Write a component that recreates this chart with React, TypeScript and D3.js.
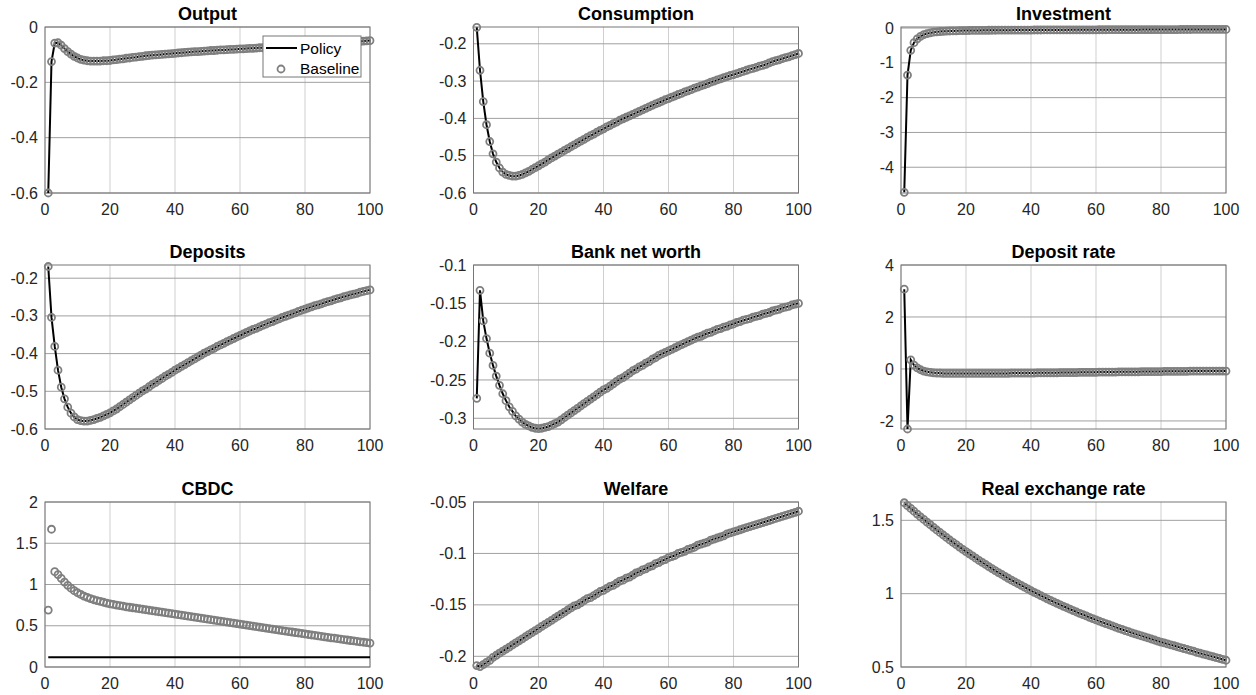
import React from 'react';
import * as d3 from 'd3';

const X_TICKS = [0, 20, 40, 60, 80, 100];

const OUTPUT = [
  -0.600, -0.125, -0.058, -0.057, -0.066, -0.078, -0.089, -0.098, -0.106, -0.112,
  -0.117, -0.120, -0.122, -0.123, -0.123, -0.123, -0.123, -0.122, -0.122, -0.121,
  -0.119, -0.118, -0.116, -0.115, -0.113, -0.112, -0.110, -0.109, -0.107, -0.106,
  -0.104, -0.103, -0.102, -0.101, -0.100, -0.099, -0.098, -0.097, -0.096, -0.095,
  -0.094, -0.093, -0.092, -0.091, -0.090, -0.089, -0.089, -0.088, -0.087, -0.086,
  -0.085, -0.085, -0.084, -0.083, -0.083, -0.082, -0.081, -0.081, -0.080, -0.079,
  -0.079, -0.078, -0.077, -0.077, -0.076, -0.075, -0.075, -0.074, -0.073, -0.073,
  -0.072, -0.071, -0.070, -0.070, -0.069, -0.068, -0.067, -0.066, -0.065, -0.064,
  -0.064, -0.063, -0.062, -0.061, -0.061, -0.060, -0.059, -0.058, -0.058, -0.057,
  -0.056, -0.055, -0.055, -0.054, -0.053, -0.052, -0.052, -0.051, -0.050, -0.049,
];

const CONSUMPTION = [
  -0.156, -0.271, -0.355, -0.417, -0.462, -0.495, -0.517, -0.533, -0.544, -0.550,
  -0.553, -0.555, -0.555, -0.553, -0.550, -0.546, -0.542, -0.537, -0.532, -0.527,
  -0.522, -0.517, -0.511, -0.506, -0.501, -0.496, -0.491, -0.486, -0.481, -0.476,
  -0.471, -0.466, -0.461, -0.456, -0.451, -0.446, -0.442, -0.437, -0.432, -0.428,
  -0.423, -0.419, -0.414, -0.410, -0.405, -0.401, -0.397, -0.393, -0.389, -0.385,
  -0.381, -0.377, -0.373, -0.369, -0.365, -0.361, -0.358, -0.354, -0.350, -0.347,
  -0.343, -0.340, -0.336, -0.333, -0.329, -0.326, -0.323, -0.319, -0.316, -0.313,
  -0.310, -0.307, -0.303, -0.300, -0.297, -0.294, -0.291, -0.288, -0.285, -0.283,
  -0.280, -0.277, -0.274, -0.271, -0.268, -0.266, -0.263, -0.260, -0.258, -0.255,
  -0.251, -0.248, -0.245, -0.243, -0.240, -0.237, -0.235, -0.232, -0.229, -0.226,
];

const INVESTMENT = [
  -4.72, -1.35, -0.64, -0.42, -0.31, -0.24, -0.19, -0.16, -0.14, -0.12,
  -0.110, -0.100, -0.095, -0.090, -0.085, -0.082, -0.079, -0.076, -0.074, -0.072,
  -0.070, -0.069, -0.068, -0.067, -0.066, -0.065, -0.064, -0.063, -0.063, -0.062,
  -0.061, -0.061, -0.060, -0.060, -0.059, -0.059, -0.058, -0.058, -0.057, -0.057,
  -0.056, -0.056, -0.056, -0.055, -0.055, -0.054, -0.054, -0.054, -0.053, -0.053,
  -0.053, -0.052, -0.052, -0.052, -0.051, -0.051, -0.051, -0.050, -0.050, -0.050,
  -0.049, -0.049, -0.049, -0.048, -0.048, -0.048, -0.047, -0.047, -0.047, -0.047,
  -0.046, -0.046, -0.046, -0.045, -0.045, -0.045, -0.045, -0.044, -0.044, -0.044,
  -0.044, -0.043, -0.043, -0.043, -0.043, -0.042, -0.042, -0.042, -0.042, -0.041,
  -0.041, -0.041, -0.041, -0.041, -0.040, -0.040, -0.040, -0.040, -0.040, -0.039,
];

const DEPOSITS = [
  -0.169, -0.304, -0.381, -0.444, -0.489, -0.520, -0.542, -0.558, -0.568, -0.575,
  -0.578, -0.579, -0.579, -0.577, -0.575, -0.572, -0.569, -0.565, -0.561, -0.557,
  -0.552, -0.547, -0.541, -0.535, -0.529, -0.523, -0.517, -0.511, -0.505, -0.499,
  -0.494, -0.488, -0.482, -0.477, -0.471, -0.466, -0.460, -0.455, -0.450, -0.444,
  -0.439, -0.434, -0.429, -0.424, -0.419, -0.414, -0.409, -0.404, -0.399, -0.395,
  -0.390, -0.386, -0.381, -0.377, -0.373, -0.368, -0.364, -0.360, -0.356, -0.352,
  -0.348, -0.344, -0.340, -0.336, -0.333, -0.329, -0.325, -0.322, -0.318, -0.315,
  -0.311, -0.308, -0.304, -0.301, -0.298, -0.295, -0.292, -0.288, -0.285, -0.282,
  -0.279, -0.276, -0.273, -0.271, -0.268, -0.265, -0.262, -0.260, -0.257, -0.254,
  -0.252, -0.249, -0.247, -0.244, -0.242, -0.240, -0.237, -0.235, -0.233, -0.231,
];

const BANK_NET_WORTH = [
  -0.274, -0.133, -0.173, -0.196, -0.215, -0.231, -0.245, -0.257, -0.268, -0.277,
  -0.285, -0.291, -0.297, -0.301, -0.305, -0.308, -0.310, -0.312, -0.313, -0.3135,
  -0.313, -0.312, -0.311, -0.309, -0.307, -0.305, -0.302, -0.299, -0.296, -0.293,
  -0.290, -0.287, -0.284, -0.281, -0.278, -0.275, -0.272, -0.269, -0.266, -0.263,
  -0.261, -0.258, -0.255, -0.252, -0.249, -0.247, -0.244, -0.241, -0.238, -0.236,
  -0.233, -0.231, -0.228, -0.226, -0.223, -0.221, -0.218, -0.216, -0.214, -0.212,
  -0.210, -0.208, -0.206, -0.204, -0.202, -0.200, -0.198, -0.196, -0.194, -0.193,
  -0.191, -0.189, -0.188, -0.186, -0.184, -0.183, -0.181, -0.180, -0.178, -0.177,
  -0.175, -0.174, -0.172, -0.171, -0.170, -0.168, -0.167, -0.166, -0.164, -0.163,
  -0.162, -0.160, -0.159, -0.158, -0.156, -0.155, -0.154, -0.152, -0.151, -0.150,
];

const DEPOSIT_RATE = [
  3.07, -2.31, 0.35, 0.15, 0.04, -0.03, -0.08, -0.11, -0.13, -0.15,
  -0.16, -0.16, -0.17, -0.17, -0.17, -0.17, -0.17, -0.17, -0.17, -0.17,
  -0.17, -0.17, -0.17, -0.17, -0.17, -0.17, -0.17, -0.17, -0.17, -0.17,
  -0.17, -0.17, -0.17, -0.16, -0.16, -0.16, -0.16, -0.16, -0.16, -0.16,
  -0.16, -0.15, -0.15, -0.15, -0.15, -0.15, -0.15, -0.15, -0.14, -0.14,
  -0.14, -0.14, -0.14, -0.14, -0.13, -0.13, -0.13, -0.13, -0.13, -0.13,
  -0.12, -0.12, -0.12, -0.12, -0.12, -0.12, -0.11, -0.11, -0.11, -0.11,
  -0.11, -0.11, -0.11, -0.10, -0.10, -0.10, -0.10, -0.10, -0.10, -0.10,
  -0.09, -0.09, -0.09, -0.09, -0.09, -0.09, -0.09, -0.09, -0.08, -0.08,
  -0.08, -0.08, -0.08, -0.08, -0.08, -0.08, -0.08, -0.08, -0.08, -0.08,
];

const CBDC_BASELINE = [
  0.69, 1.67, 1.155, 1.12, 1.075, 1.03, 0.99, 0.955, 0.925, 0.90,
  0.880, 0.860, 0.845, 0.830, 0.815, 0.805, 0.795, 0.785, 0.775, 0.765,
  0.758, 0.751, 0.744, 0.737, 0.730, 0.724, 0.718, 0.712, 0.706, 0.700,
  0.694, 0.688, 0.682, 0.676, 0.670, 0.664, 0.658, 0.652, 0.646, 0.640,
  0.634, 0.628, 0.622, 0.616, 0.610, 0.604, 0.598, 0.592, 0.586, 0.580,
  0.574, 0.568, 0.562, 0.556, 0.550, 0.544, 0.538, 0.532, 0.526, 0.520,
  0.514, 0.508, 0.502, 0.496, 0.490, 0.484, 0.478, 0.472, 0.466, 0.460,
  0.454, 0.448, 0.442, 0.436, 0.430, 0.424, 0.418, 0.412, 0.406, 0.400,
  0.394, 0.388, 0.383, 0.377, 0.371, 0.366, 0.360, 0.354, 0.349, 0.343,
  0.338, 0.332, 0.327, 0.321, 0.316, 0.311, 0.305, 0.300, 0.295, 0.290,
];

const CBDC_POLICY = [
  0.118, 0.118, 0.118, 0.118, 0.118, 0.118, 0.118, 0.118, 0.118, 0.118,
  0.118, 0.118, 0.118, 0.118, 0.118, 0.118, 0.118, 0.118, 0.118, 0.118,
  0.118, 0.118, 0.118, 0.118, 0.118, 0.118, 0.118, 0.118, 0.118, 0.118,
  0.118, 0.118, 0.118, 0.118, 0.118, 0.118, 0.118, 0.118, 0.118, 0.118,
  0.118, 0.118, 0.118, 0.118, 0.118, 0.118, 0.118, 0.118, 0.118, 0.118,
  0.118, 0.118, 0.118, 0.118, 0.118, 0.118, 0.118, 0.118, 0.118, 0.118,
  0.118, 0.118, 0.118, 0.118, 0.118, 0.118, 0.118, 0.118, 0.118, 0.118,
  0.118, 0.118, 0.118, 0.118, 0.118, 0.118, 0.118, 0.118, 0.118, 0.118,
  0.118, 0.118, 0.118, 0.118, 0.118, 0.118, 0.118, 0.118, 0.118, 0.118,
  0.118, 0.118, 0.118, 0.118, 0.118, 0.118, 0.118, 0.118, 0.118, 0.118,
];

const WELFARE = [
  -0.209, -0.210, -0.208, -0.206, -0.204, -0.201, -0.199, -0.197, -0.195, -0.193,
  -0.191, -0.189, -0.187, -0.185, -0.183, -0.181, -0.179, -0.177, -0.175, -0.173,
  -0.171, -0.169, -0.167, -0.165, -0.163, -0.161, -0.159, -0.157, -0.155, -0.153,
  -0.151, -0.150, -0.148, -0.146, -0.144, -0.143, -0.141, -0.139, -0.137, -0.136,
  -0.134, -0.132, -0.131, -0.129, -0.127, -0.126, -0.124, -0.123, -0.121, -0.119,
  -0.118, -0.116, -0.115, -0.113, -0.112, -0.110, -0.109, -0.107, -0.106, -0.104,
  -0.103, -0.102, -0.100, -0.099, -0.098, -0.096, -0.095, -0.094, -0.092, -0.091,
  -0.090, -0.089, -0.087, -0.086, -0.085, -0.084, -0.083, -0.081, -0.080, -0.079,
  -0.078, -0.077, -0.076, -0.075, -0.074, -0.073, -0.072, -0.071, -0.070, -0.069,
  -0.068, -0.067, -0.066, -0.065, -0.064, -0.063, -0.062, -0.061, -0.060, -0.059,
];

const REAL_EXCHANGE_RATE = [
  1.620, 1.600, 1.581, 1.562, 1.543, 1.524, 1.506, 1.488, 1.470, 1.452,
  1.434, 1.417, 1.400, 1.383, 1.366, 1.350, 1.334, 1.318, 1.302, 1.287,
  1.272, 1.257, 1.242, 1.227, 1.213, 1.199, 1.185, 1.171, 1.157, 1.144,
  1.131, 1.118, 1.105, 1.092, 1.080, 1.068, 1.056, 1.044, 1.032, 1.020,
  1.009, 0.998, 0.987, 0.976, 0.965, 0.954, 0.944, 0.934, 0.924, 0.914,
  0.904, 0.894, 0.885, 0.875, 0.866, 0.857, 0.848, 0.839, 0.830, 0.821,
  0.813, 0.804, 0.796, 0.788, 0.780, 0.772, 0.764, 0.756, 0.748, 0.741,
  0.733, 0.726, 0.719, 0.712, 0.705, 0.698, 0.691, 0.684, 0.677, 0.670,
  0.664, 0.657, 0.651, 0.645, 0.638, 0.632, 0.626, 0.620, 0.614, 0.608,
  0.600, 0.594, 0.588, 0.582, 0.576, 0.570, 0.564, 0.558, 0.552, 0.546,
];

const TITLES = [
  'Output', 'Consumption', 'Investment',
  'Deposits', 'Bank net worth', 'Deposit rate',
  'CBDC', 'Welfare', 'Real exchange rate',
];
const POLICY = [OUTPUT, CONSUMPTION, INVESTMENT, DEPOSITS, BANK_NET_WORTH, DEPOSIT_RATE, CBDC_POLICY, WELFARE, REAL_EXCHANGE_RATE];
const BASELINE = [OUTPUT, CONSUMPTION, INVESTMENT, DEPOSITS, BANK_NET_WORTH, DEPOSIT_RATE, CBDC_BASELINE, WELFARE, REAL_EXCHANGE_RATE];
const Y_DOMAINS: [number, number][] = [
  [-0.6, 0], [-0.6, -0.155], [-4.74, 0.03],
  [-0.6, -0.165], [-0.314, -0.1], [-2.31, 4],
  [0, 2], [-0.2104, -0.05], [0.5, 1.625],
];
const Y_TICKS = [
  [-0.6, -0.4, -0.2, 0],
  [-0.6, -0.5, -0.4, -0.3, -0.2],
  [-4, -3, -2, -1, 0],
  [-0.6, -0.5, -0.4, -0.3, -0.2],
  [-0.3, -0.25, -0.2, -0.15, -0.1],
  [-2, 0, 2, 4],
  [0, 0.5, 1, 1.5, 2],
  [-0.2, -0.15, -0.1, -0.05],
  [0.5, 1, 1.5],
];
const LEGEND_LABELS = ['Policy', 'Baseline'];

const COL_LEFT = [45, 473.5, 901];
const ROW_TOP = [27, 265, 502];
const ROW_BOTTOM = [193, 429, 667];
const AX_W = 325;
const FONT = "'Liberation Sans', Arial, Helvetica, sans-serif";
const MARK_R = 3.5;
const MARK_W = 1.8;
const MARK_C = '#7f7f7f';

function Panel({ idx }: { idx: number }) {
  const col = idx % 3;
  const row = Math.floor(idx / 3);
  const left = COL_LEFT[col];
  const top = ROW_TOP[row];
  const bottom = ROW_BOTTOM[row];
  const x = d3.scaleLinear().domain([0, 100]).range([left, left + AX_W]);
  const y = d3.scaleLinear().domain(Y_DOMAINS[idx]).range([bottom, top]);
  const policy = POLICY[idx];
  const baseline = BASELINE[idx];
  const line = d3.line<number>().x((_, i) => x(i + 1)).y((d) => y(d));
  return (
    <g>
      {X_TICKS.map((t) => (
        <line key={'gx' + t} x1={x(t)} x2={x(t)} y1={top} y2={bottom} stroke="#cfcfcf" strokeWidth={1} />
      ))}
      {Y_TICKS[idx].map((t) => (
        <line key={'gy' + t} x1={left} x2={left + AX_W} y1={y(t)} y2={y(t)} stroke="#a0a0a0" strokeWidth={1} />
      ))}
      <rect x={left} y={top} width={AX_W} height={bottom - top} fill="none" stroke="#767676" strokeWidth={1} />
      {X_TICKS.map((t) => (
        <text key={'xl' + t} x={x(t)} y={bottom + 22} textAnchor="middle" fontSize={16} fill="#262626" fontFamily={FONT}>
          {String(t)}
        </text>
      ))}
      {Y_TICKS[idx].map((t) => (
        <text key={'yl' + t} x={left - 7} y={y(t)} dy="0.35em" textAnchor="end" fontSize={16} fill="#262626" fontFamily={FONT}>
          {String(t)}
        </text>
      ))}
      <text x={left + AX_W / 2} y={top - 7} textAnchor="middle" fontSize={18} fontWeight="bold" fill="#000" fontFamily={FONT}>
        {TITLES[idx]}
      </text>
      <path d={line(policy) || ''} fill="none" stroke="#000" strokeWidth={2} />
      {baseline.map((v, i) => (
        <circle key={'c' + i} cx={x(i + 1)} cy={y(v)} r={MARK_R} fill="none" stroke={MARK_C} strokeWidth={MARK_W} />
      ))}
      {idx === 0 && (
        <g>
          <rect x={263} y={36} width={98} height={41} fill="#fff" stroke="#767676" strokeWidth={1} />
          <line x1={266} x2={297} y1={48} y2={48} stroke="#000" strokeWidth={2} />
          <text x={300} y={53.5} fontSize={15.5} fill="#000" fontFamily={FONT}>{LEGEND_LABELS[0]}</text>
          <circle cx={281} cy={69} r={MARK_R} fill="none" stroke={MARK_C} strokeWidth={MARK_W} />
          <text x={300} y={74} fontSize={15.5} fill="#000" fontFamily={FONT}>{LEGEND_LABELS[1]}</text>
        </g>
      )}
    </g>
  );
}

export default function App() {
  return (
    <svg width={1256} height={695} style={{ position: 'absolute', left: 0, top: 0, background: '#fff' }}>
      <rect x={0} y={0} width={1256} height={695} fill="#fff" />
      {TITLES.map((_, i) => (
        <Panel key={i} idx={i} />
      ))}
    </svg>
  );
}
